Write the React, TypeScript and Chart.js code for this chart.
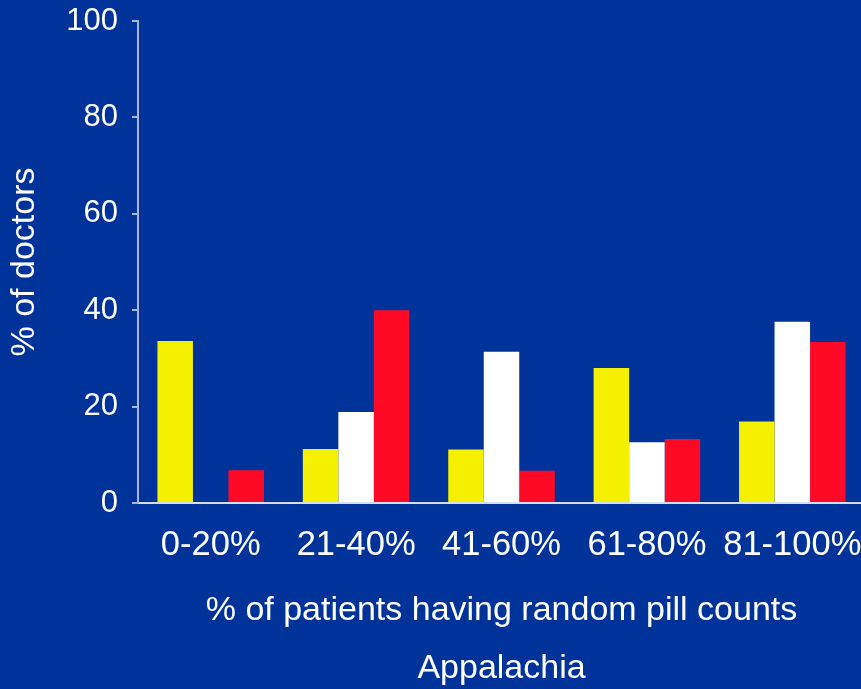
import { useEffect, useRef } from 'react';
import { Chart, registerables } from 'chart.js';

Chart.register(...registerables);

// Share of doctors by how often their patients get random pill counts
const categories = ['0-20%', '21-40%', '41-60%', '61-80%', '81-100%'];
const yellowValues = [33.6, 11.2, 11.1, 28.0, 16.9];
const whiteValues = [0, 18.9, 31.4, 12.6, 37.6];
const redValues = [6.8, 40.0, 6.7, 13.3, 33.4];
const yTicks = [0, 20, 40, 60, 80, 100];

const xTitle = ['% of patients having random pill counts', 'Appalachia'];
const yTitle = '% of doctors';

const FONT = "'Liberation Sans', Arial, Helvetica, sans-serif";
const BG = '#003399';
const AXIS = '#a9b6dc';

// Keep the plot area fixed: no extra room reserved for overhanging labels
const clearScalePadding = (scale: any) => {
  scale.paddingTop = 0;
  scale.paddingBottom = 0;
  scale.paddingLeft = 0;
  scale.paddingRight = 0;
};

export default function App() {
  const canvasRef = useRef<HTMLCanvasElement>(null);

  useEffect(() => {
    document.body.style.margin = '0';
    document.body.style.overflow = 'hidden';
    const canvas = canvasRef.current;
    if (!canvas) return;

    const chart = new Chart(canvas, {
      type: 'bar',
      data: {
        labels: categories,
        datasets: [
          { label: 'Yellow', data: yellowValues, backgroundColor: '#f5f000', borderWidth: 0 },
          { label: 'White', data: whiteValues, backgroundColor: '#ffffff', borderWidth: 0 },
          { label: 'Red', data: redValues, backgroundColor: '#ff0a26', borderWidth: 0 },
        ],
      },
      options: {
        animation: false,
        responsive: false,
        maintainAspectRatio: false,
        datasets: {
          bar: { barPercentage: 1, categoryPercentage: 0.7325 },
        },
        layout: { padding: { top: 21, left: 0, right: 0, bottom: 0 } },
        plugins: {
          legend: { display: false },
          tooltip: { enabled: false },
        },
        scales: {
          x: {
            grid: { display: false, drawTicks: true, tickLength: 25 },
            border: { display: true, color: '#d6ddef', width: 2 },
            ticks: {
              color: '#ffffff',
              font: { family: FONT, size: 34.5, lineHeight: 1 },
              padding: 0,
              maxRotation: 0,
              autoSkip: false,
            },
            title: {
              display: true,
              text: xTitle,
              color: '#ffffff',
              font: { family: FONT, size: 34, lineHeight: 58 / 34 },
              padding: { top: 0, bottom: -9 },
            },
            afterFit: (scale: any) => {
              scale.height = 186;
              clearScalePadding(scale);
            },
          },
          y: {
            min: 0,
            max: 100,
            afterBuildTicks: (scale: any) => {
              scale.ticks = yTicks.map((v) => ({ value: v }));
            },
            grid: {
              drawOnChartArea: false,
              drawTicks: true,
              tickLength: 6,
              color: AXIS,
              lineWidth: 2,
            },
            border: { display: true, color: AXIS, width: 2 },
            ticks: {
              color: '#ffffff',
              font: { family: FONT, size: 31, lineHeight: 1 },
              padding: 14,
            },
            title: {
              display: true,
              text: yTitle,
              color: '#ffffff',
              font: { family: FONT, size: 34, lineHeight: 1 },
              padding: { top: 8, bottom: 0 },
            },
            afterFit: (scale: any) => {
              scale.width = 138;
              clearScalePadding(scale);
            },
          },
        },
      },
    });

    return () => chart.destroy();
  }, []);

  return (
    <div
      style={{
        position: 'relative',
        width: 861,
        height: 689,
        overflow: 'hidden',
        background: BG,
      }}
    >
      <canvas
        ref={canvasRef}
        width={865}
        height={689}
        style={{ display: 'block', width: 865, height: 689 }}
      />
    </div>
  );
}
